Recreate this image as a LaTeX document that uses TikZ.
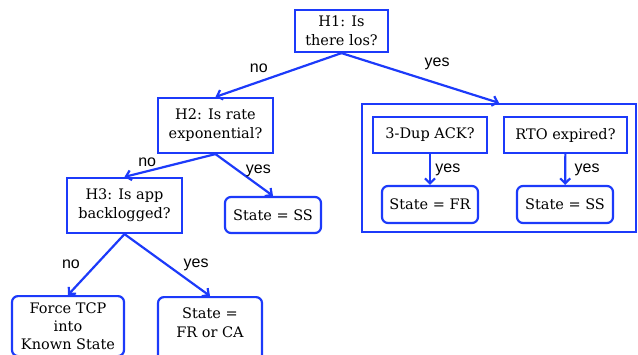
\documentclass[tikz,border=0pt]{standalone}
\usepackage{fontspec}
\setmainfont{DejaVu Serif}
\newfontfamily\answerfont{Liberation Sans}
\usepackage{tikz}
\usetikzlibrary{arrows.meta,positioning}
\definecolor{treeblue}{RGB}{28,58,250}

\begin{document}
\begin{tikzpicture}[x=1pt, y=-1pt, ->, >={Straight Barb[length=5pt,width=10pt]}, line width=2.2pt, color=treeblue,
	question/.style={draw=treeblue, rectangle, align=center, text=black, inner sep=2pt, font=\fontsize{14.5}{19}\selectfont},
	outcome/.style={question, rounded corners=6pt},
	answer/.style={text=black, font=\answerfont\fontsize{16}{18}\selectfont}]
	\useasboundingbox (0,0) rectangle (638,354);

	\node[question, minimum width=93pt, minimum height=42pt]	(H1)	at (341.5,31)	{H1: Is\\there los?};
	\node[question, minimum width=115pt, minimum height=55pt]	(H2)	at (215.5,125.5)	{H2: Is rate\\exponential?};
	\node[question, minimum width=115pt, minimum height=55pt]	(H3)	at (124.5,205.5)	{H3: Is app\\backlogged?};
	\node[outcome, minimum width=96pt, minimum height=36pt]	(SSL)	at (273,215)	{State = SS};
	\node[outcome, minimum width=112pt, minimum height=60pt, anchor=north, font=\fontsize{14.5}{18}\selectfont]	(FORCE)	at (68,295)	{Force TCP\\into\\Known State};
	\node[outcome, minimum width=104pt, minimum height=64pt, anchor=north]	(FRCA)	at (210,296)	{State =\\FR or CA\rule[-12pt]{0pt}{0pt}};

	\node[draw=treeblue, rectangle, minimum width=274pt, minimum height=128pt]	(CASES)	at (499,168)	{};
	\node[question, minimum width=114pt, minimum height=36pt]	(DUP)	at (430,135)	{3-Dup ACK?};
	\node[question, minimum width=123pt, minimum height=36pt]	(RTO)	at (565.5,135)	{RTO expired?};
	\node[outcome, minimum width=96pt, minimum height=37pt]	(FR)	at (430,204.5)	{State = FR};
	\node[outcome, minimum width=96pt, minimum height=37pt]	(SSR)	at (565,204.5)	{State = SS};

	\path	(H1.south)	edge	node[answer, above left, pos=0.55]	{no}	(H2.north)
			(H1.south)	edge	node[answer, above right, pos=0.5, yshift=4pt]	{yes}	(CASES.north)
			(H2.south)	edge	node[answer, above, pos=0.75]	{no}	(H3.north)
			(H2.south)	edge	node[answer, right=3pt, pos=0.4]	{yes}	(SSL.north)
			(H3.south)	edge	node[answer, left=12pt]	{no}	(FORCE.north)
			(H3.south)	edge	node[answer, right=12pt]	{yes}	(FRCA.north)
			(DUP)		edge	node[answer, right=1pt]	{yes}	(FR)
			(RTO)		edge	node[answer, right=5pt]	{yes}	(SSR);
\end{tikzpicture}
\end{document}
